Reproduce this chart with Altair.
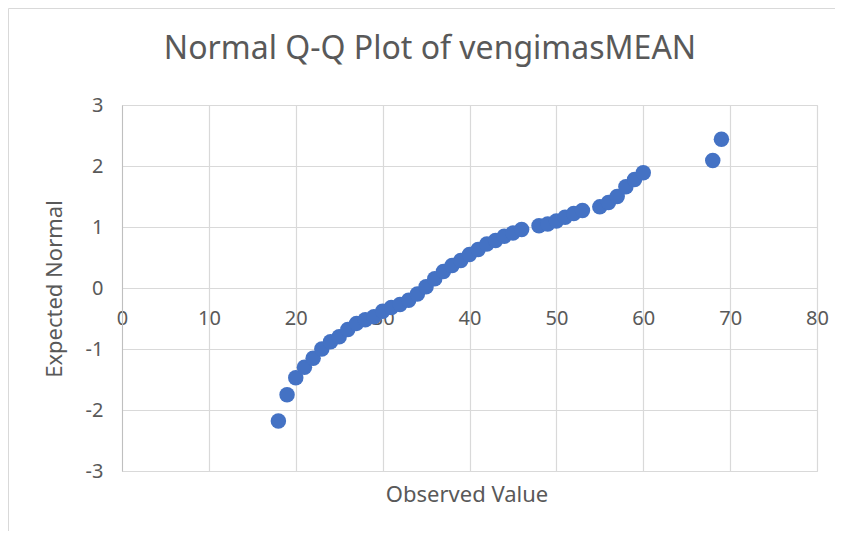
import altair as alt
import pandas as pd

observed = [18, 19, 20, 21, 22, 23, 24, 25, 26, 27, 28, 29, 30, 31, 32, 33, 34,
            35, 36, 37, 38, 39, 40, 41, 42, 43, 44, 45, 46,
            48, 49, 50, 51, 52, 53,
            55, 56, 57, 58, 59, 60,
            68, 69]
expected = [-2.18, -1.75, -1.47, -1.30, -1.15, -1.00, -0.88, -0.80, -0.68, -0.58,
            -0.52, -0.47, -0.38, -0.32, -0.27, -0.20, -0.10,
            0.02, 0.15, 0.27, 0.37, 0.45, 0.55, 0.63, 0.72, 0.78, 0.85, 0.90, 0.96,
            1.02, 1.05, 1.10, 1.16, 1.22, 1.27,
            1.33, 1.40, 1.50, 1.66, 1.78, 1.89,
            2.09, 2.44]

x_ticks = [0, 10, 20, 30, 40, 50, 60, 70, 80]
y_ticks = [-3, -2, -1, 0, 1, 2, 3]

chart_title = "Normal Q-Q Plot of vengimasMEAN"
x_title = "Observed Value"
y_title = "Expected Normal"

df = pd.DataFrame({"obs": observed, "exp": expected})
one = pd.DataFrame({"a": [0]})

FONT = "Noto Sans"
GREY = "#595959"
W, H = 695, 366

points = alt.Chart(df).mark_circle(size=240, opacity=1, color="#4472C4").encode(
    x=alt.X("obs:Q",
            scale=alt.Scale(domain=[0, 80], nice=False, zero=False),
            axis=alt.Axis(values=x_ticks, title=None, ticks=False, offset=-183,
                          labelPadding=20, labelFontSize=20, labelFont=FONT,
                          labelColor=GREY, domainColor="#d9d9d9",
                          labelExpr="datum.value + ''", labelFlush=False,
                          labelOverlap=False,
                          gridColor="#d9d9d9", gridWidth=1.2)),
    y=alt.Y("exp:Q",
            scale=alt.Scale(domain=[-3, 3], nice=False, zero=False),
            axis=alt.Axis(values=y_ticks, title=None, ticks=False,
                          labelPadding=19, labelFontSize=20, labelFont=FONT,
                          labelColor=GREY, domainColor="#bfbfbf",
                          labelExpr="datum.value + ''", labelFlush=False,
                          labelOverlap=False,
                          gridColor="#d9d9d9", gridWidth=1.2)),
)

title_txt = alt.Chart(one).mark_text(
    font=FONT, fontSize=32, color=GREY, align="center", baseline="middle"
).encode(x=alt.value(308), y=alt.value(-56), text=alt.value(chart_title))

xt = alt.Chart(one).mark_text(
    font=FONT, fontSize=22, color=GREY, align="center", baseline="middle"
).encode(x=alt.value(345), y=alt.value(390), text=alt.value(x_title))

yt = alt.Chart(one).mark_text(
    font=FONT, fontSize=22, color=GREY, align="center", baseline="middle", angle=270
).encode(x=alt.value(-67), y=alt.value(184), text=alt.value(y_title))

border_left = alt.Chart(one).mark_rule(color="#d9d9d9", strokeWidth=1).encode(
    x=alt.value(-113.5), y=alt.value(-96.5), y2=alt.value(440))
border_top = alt.Chart(one).mark_rule(color="#d9d9d9", strokeWidth=1).encode(
    x=alt.value(-113.5), x2=alt.value(720), y=alt.value(-96.5))

chart = alt.layer(border_left, border_top, title_txt, xt, yt, points).properties(
    width=W, height=H,
    autosize=alt.AutoSizeParams(type="none"),
    padding={"left": 114, "top": 97, "right": 18, "bottom": 60},
).configure_view(stroke=None).configure(background="white")

chart.save("out.html", embed_options={"renderer": "svg", "actions": False})
